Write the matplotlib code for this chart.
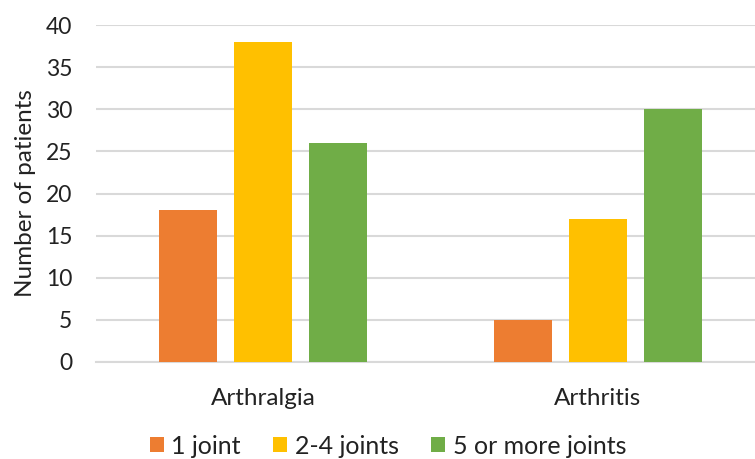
import numpy as np
import matplotlib
matplotlib.use("Agg")
import matplotlib.pyplot as plt

plt.rcParams['font.family'] = ['Lato', 'DejaVu Sans']

categories = ['Arthralgia', 'Arthritis']
series_names = ['1 joint', '2-4 joints', '5 or more joints']
one_joint = [18, 5]
two_four_joints = [38, 17]
five_plus_joints = [26, 30]
colors = ['#ED7D31', '#FFC000', '#70AD47']

fig = plt.figure(figsize=(7.55, 4.59), dpi=100)
ax = fig.add_axes([96 / 755, 97 / 459, 669 / 755, 337 / 459])

x = np.arange(len(categories))
width = 0.173
step = 0.224
for i, (vals, name) in enumerate(zip([one_joint, two_four_joints, five_plus_joints], series_names)):
    ax.bar(x + (i - 1) * step, vals, width, color=colors[i], label=name, zorder=3)

ax.set_xlim(-0.5, 1.5)
ax.set_ylim(0, 40)
ax.set_yticks(range(0, 41, 5))
ax.set_xticks(x)
ax.set_xticklabels(categories)
ax.yaxis.grid(True, color='#d9d9d9', linewidth=1.5, zorder=0)
ax.set_axisbelow(True)
for s in ['top', 'right', 'left']:
    ax.spines[s].set_visible(False)
ax.spines['bottom'].set_color('#d9d9d9')
ax.spines['bottom'].set_linewidth(1.5)
ax.tick_params(axis='both', length=0, labelsize=17.5, colors='#222222')
ax.tick_params(axis='y', labelsize=16.5, pad=17)
ax.tick_params(axis='x', pad=19)
ax.set_ylabel('Number of patients', fontsize=17.5, color='#222222', labelpad=7)

# legend sits right at the bottom edge, under the category labels
fig.legend(loc='center', bbox_to_anchor=(388 / 755, 13 / 459), ncol=3, frameon=False,
           fontsize=18, handlelength=0.56, handleheight=0.56, handletextpad=0.3,
           columnspacing=1.3, labelcolor='#222222')

fig.savefig('out.png', dpi=100)
